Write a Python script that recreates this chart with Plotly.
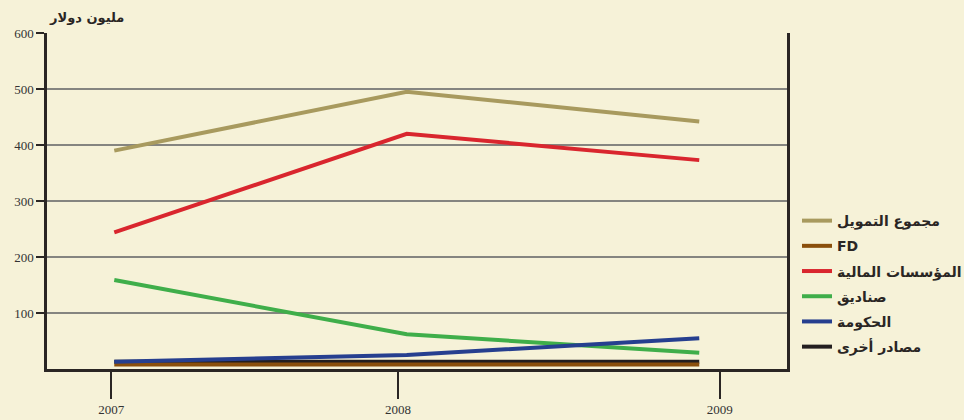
import plotly.graph_objects as go

# Funding sources, million USD
years = [2007, 2008, 2009]
total_funding = [390, 495, 442]      # مجموع التمويل
fd = [8, 8, 8]                        # FD
financial_inst = [244, 420, 373]      # المؤسسات المالية
funds = [159, 62, 29]                 # صناديق
government = [13, 25, 55]             # الحكومة
other_sources = [13, 13, 13]          # مصادر أخرى

y_ticks = [100, 200, 300, 400, 500, 600]
x_tick_vals = [2006.99, 2007.97, 2009.07]
x_tick_text = ["2007", "2008", "2009"]

series = [
    # (name, values, colour, legend rank) in drawing order
    ("مصادر أخرى", other_sources, "#231f20", 6),
    ("FD", fd, "#8a4f0c", 2),
    ("مجموع التمويل", total_funding, "#a89a5e", 1),
    ("المؤسسات المالية", financial_inst, "#d9262e", 3),
    ("صناديق", funds, "#3fae4a", 4),
    ("الحكومة", government, "#263f8f", 5),
]

bg = "#f6f2d8"
dark = "#2a2624"

fig = go.Figure()
for name, vals, colour, rank in series:
    fig.add_trace(go.Scatter(
        x=years, y=vals, name=name, mode="lines",
        line=dict(color=colour, width=4),
        legendrank=rank, legendgroup=name,
    ))

fig.update_layout(
    width=964, height=420,
    paper_bgcolor=bg, plot_bgcolor=bg,
    margin=dict(l=47, r=177, t=33, b=51, autoexpand=False),
    showlegend=True,
    legend=dict(
        x=1.0135, y=0.488, xanchor="left", yanchor="top",
        bgcolor="rgba(0,0,0,0)", tracegroupgap=4,
        font=dict(family="DejaVu Sans", size=14, color=dark, weight="bold"),
        itemwidth=30,
    ),
    annotations=[dict(
        text="<b>مليون دولار</b>", xref="paper", yref="paper",
        x=0.0, y=1.0, xanchor="left", yanchor="bottom", yshift=6,
        showarrow=False,
        font=dict(family="DejaVu Sans", size=13, color=dark),
    )],
)

fig.update_xaxes(
    range=[2006.77, 2009.30],
    tickvals=x_tick_vals, ticktext=x_tick_text,
    showgrid=False, zeroline=False,
    showline=True, linecolor=dark, linewidth=2.5,
    ticks="outside", ticklen=27, tickwidth=2, tickcolor=dark,
    tickfont=dict(family="Liberation Serif", size=13, color="#333"),
)
fig.update_yaxes(
    range=[0, 600],
    tickvals=y_ticks,
    showgrid=True, gridcolor="#858580", gridwidth=1.5,
    zeroline=False,
    showline=True, mirror=True, linecolor=dark, linewidth=2.5,
    ticks="outside", ticklen=8, tickwidth=2, tickcolor=dark,
    tickfont=dict(family="Liberation Serif", size=13, color="#333"),
)

fig.write_html("out.html")
